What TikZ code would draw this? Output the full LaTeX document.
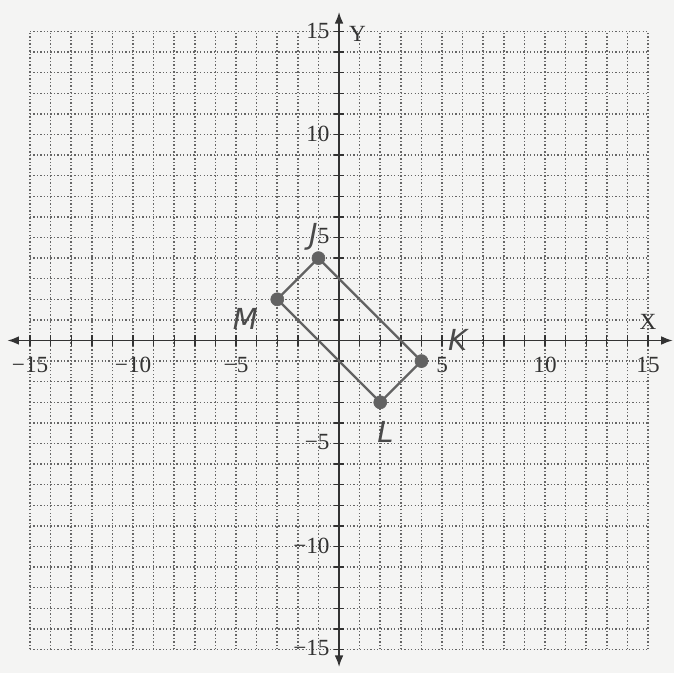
\documentclass[tikz,border=0pt]{standalone}
\usepackage{fontspec}
\setmainfont{Liberation Serif}
\newfontfamily\handfont{DejaVu Sans}
\usetikzlibrary{arrows.meta}
\definecolor{paper}{HTML}{F4F4F3}
\definecolor{gridc}{HTML}{666666}
\definecolor{axisc}{HTML}{333333}
\definecolor{shapec}{HTML}{626262}
\definecolor{handc}{HTML}{4A4A4A}
\tikzset{
  gridline/.style={gridc, line width=0.85pt, dash pattern=on 0.85pt off 1.5pt},
  vgridline/.style={gridc, line width=1.1pt, dash pattern=on 1pt off 1.4pt},
  axisline/.style={axisc, line width=1.1pt, {Latex[length=8pt,width=6pt]}-{Latex[length=8pt,width=6pt]}},
  tickmark/.style={axisc, line width=0.9pt},
  ticklab/.style={text=axisc, font=\fontsize{16}{16}\selectfont, inner sep=0pt},
  shapeedge/.style={shapec, line width=1.6pt, line join=round},
  vertexdot/.style={circle, fill=shapec, draw=shapec, minimum size=9pt, inner sep=0pt},
  handlab/.style={text=handc, font=\handfont\fontsize{20}{20}\selectfont\itshape, inner sep=0pt},
}
\begin{document}
\begin{tikzpicture}[x=0.5cm,y=0.5cm]
\useasboundingbox[fill=paper] (-16.46,-16.14) rectangle (16.26,16.53);
% grid
\draw[gridline] (-15,-15) grid[xstep=100, ystep=1] (15,15);
\foreach \i in {-15,...,15}{ \draw[vgridline] (\i,-15) -- (\i,15); }
% axes
\coordinate (xl) at (-16.1,0);
\coordinate (xr) at (16.2,0);
\coordinate (yb) at (0,-15.85);
\coordinate (yt) at (0,15.95);
\draw[axisline] (xl) -- (xr);
\draw[axisline] (yb) -- (yt);
\foreach \i in {-15,...,15}{
  \draw[tickmark] (\i,-0.25) -- (\i,0.25);
  \draw[tickmark] (-0.25,\i) -- (0.25,\i);
}
% tick labels
\foreach \v/\t in {-15/{−15},-10/{−10},-5/{−5},5/5,10/10,15/15}{
  \node[ticklab] (xt\v) at (\v,-1.2) {\t};
  \node[ticklab, anchor=east] (yt\v) at (-0.45,\v+0.05) {\t};
}
\node[ticklab] (xname) at (15.0,0.9) {X};
\node[ticklab] (yname) at (0.9,14.9) {Y};
% rectangle JKLM
\coordinate (J) at (-1,4);
\coordinate (K) at (4,-1);
\coordinate (L) at (2,-3);
\coordinate (M) at (-3,2);
\draw[shapeedge] (J) -- (K) -- (L) -- (M) -- cycle;
\foreach \p in {J,K,L,M}{ \node[vertexdot] (d\p) at (\p) {}; }
% handwritten labels
\node[handlab] (lJ) at (-1.25,5.05) {J};
\node[handlab] (lM) at (-4.55,1.05) {M};
\node[handlab] (lK) at (5.75,0.05) {K};
\node[handlab] (lL) at (2.25,-4.45) {L};
\end{tikzpicture}
\end{document}
